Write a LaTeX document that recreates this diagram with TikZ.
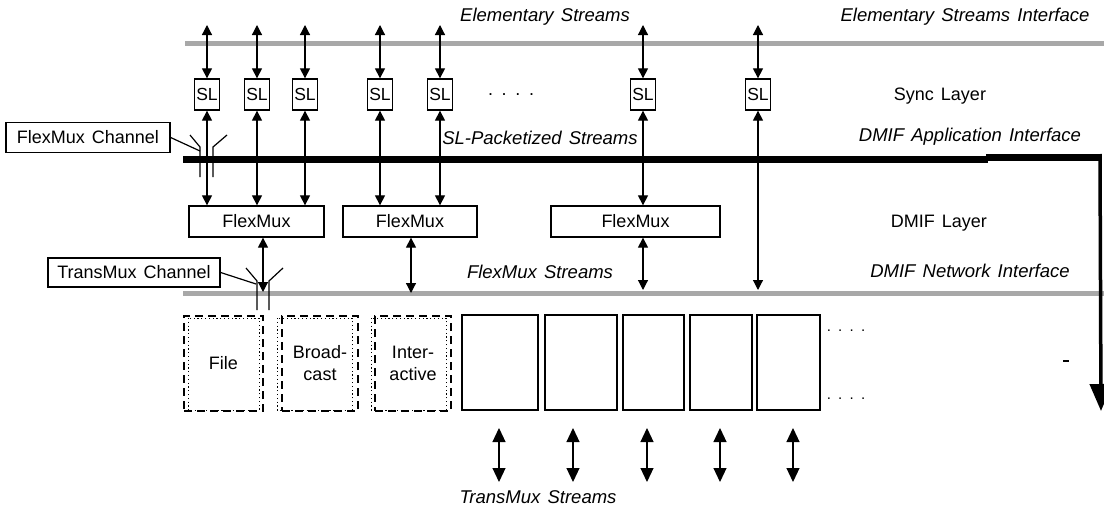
\documentclass[tikz,border=0pt]{standalone}
\usepackage{fontspec}
\setmainfont{Liberation Sans}[WordSpace=1.4]
\usetikzlibrary{arrows.meta}

\tikzset{
  lbl/.style={font=\fontsize{18}{20}\selectfont, inner sep=0pt},
  ilbl/.style={font=\fontsize{18.5}{20}\selectfont\itshape, inner sep=0pt},
  slbox/.style={draw, line width=1.3pt, minimum width=25pt, minimum height=31pt,
    inner sep=0pt, font=\fontsize{17.5}{18}\selectfont},
  fmbox/.style={draw, line width=1.3pt, minimum height=31pt, inner sep=0pt,
    font=\fontsize{18}{20}\selectfont},
  tmbox/.style={draw, line width=1.3pt, minimum height=95pt, inner sep=0pt},
  dashbox/.style={draw, line width=1.1pt, dash pattern=on 8pt off 5pt,
    minimum height=95pt, inner sep=0pt, align=center,
    font=\fontsize{18}{22}\selectfont},
  dotbox/.style={line width=1pt, dash pattern=on 1.2pt off 2.6pt},
  callbox/.style={draw, line width=1.3pt, minimum height=30pt, inner sep=0pt,
    font=\fontsize{18}{20}\selectfont},
  dbl/.style={line width=1.2pt,
    {Triangle[width=10pt,length=10pt]}-{Triangle[width=10pt,length=10pt]}},
  bigdbl/.style={line width=1.2pt,
    {Triangle[width=13pt,length=14pt]}-{Triangle[width=13pt,length=14pt]}},
  band/.style={line width=5pt, draw=gray!68},
  wall/.style={line width=1.2pt},
}

\begin{document}
\begin{tikzpicture}[x=1pt, y=-1pt]
  \useasboundingbox (0,0) rectangle (1104,506);

  % interface lines
  \draw[band] (185,43) -- (1104,43);
  \draw[band] (183,293) -- (1104,293);
  \draw[line width=7pt] (183,159) -- (988,159);
  \draw[line width=7pt] (986,157) -- (1101.5,157);
  \coordinate (apiR) at (1100,154);
  \coordinate (apiEnd) at (1101,411);
  \draw[line width=3.5pt, -{Triangle[width=22pt,length=27pt]}] (apiR) -- (apiEnd);
  \draw[line width=1.5pt] (1063,361) -- (1069,361);

  % layer and interface labels
  \node[ilbl] (est)  at (545,17)  {Elementary Streams};
  \node[ilbl] (esi)  at (965,17)  {Elementary Streams Interface};
  \node[lbl]  (sync) at (940,96)  {Sync Layer};
  \node[ilbl] (slps) at (540,138) {SL-Packetized Streams};
  \node[ilbl] (dai)  at (970,137) {DMIF Application Interface};
  \node[lbl]  (dl)   at (939,223) {DMIF Layer};
  \node[ilbl] (fms)  at (540,272) {FlexMux Streams};
  \node[ilbl] (dni)  at (970,271) {DMIF Network Interface};
  \node[ilbl] (tms)  at (538,497) {TransMux Streams};

  % sync layer
  \foreach \i/\x in {1/207,2/257,3/305,4/380,5/440,6/643,7/758} {
    \node[slbox] (sl\i) at (\x,94.5) {SL};
    \coordinate (es\i) at (\x,25);
    \draw[dbl] (es\i) -- (sl\i);
  }
  \node[lbl] (dots1) at (511,95) {. . . .};

  % FlexMux layer
  \node[fmbox, minimum width=135pt] (fm1) at (256.5,221.5) {FlexMux};
  \node[fmbox, minimum width=134pt] (fm2) at (410,221.5) {FlexMux};
  \node[fmbox, minimum width=169pt] (fm3) at (635.5,221.5) {FlexMux};

  \foreach \i/\f in {1/fm1,2/fm1,3/fm1,4/fm2,5/fm2,6/fm3}
    \draw[dbl] (sl\i) -- (sl\i |- \f.north);
  \coordinate (ni7) at (758,290);
  \draw[dbl] (sl7) -- (ni7);

  \coordinate (fs1) at (263,292);
  \coordinate (fs2) at (411,293);
  \coordinate (fs3) at (643,290);
  \draw[dbl] (fm1.south -| fs1) -- (fs1);
  \draw[dbl] (fm2.south -| fs2) -- (fs2);
  \draw[dbl] (fm3.south -| fs3) -- (fs3);

  % channel call-outs
  \node[callbox, minimum width=164pt] (fmc) at (88,137.5) {FlexMux Channel};
  \coordinate (fcw) at (200,151);
  \draw[wall] (fmc.east) -- (fcw);
  \draw[wall] (190,135) -- (200,147) -- (200,177);
  \draw[wall] (227,135) -- (213,147) -- (213,177);

  \node[callbox, minimum width=172pt, minimum height=29pt] (tmc) at (134,272.5) {TransMux Channel};
  \coordinate (tcw) at (256,284);
  \draw[wall] (tmc.east) -- (tcw);
  \draw[wall] (246,268) -- (257,281) -- (257,310);
  \draw[wall] (283,268) -- (269,281) -- (269,310);

  % TransMux instances
  \node[dashbox, minimum width=79pt] (file)  at (223.5,363.5) {File};
  \draw[dotbox] (188,318) rectangle (259,410);
  \node[dashbox, minimum width=76pt] (bcast) at (320,363.5) {Broad-\\cast};
  \draw[dotbox] (277,318) rectangle (352,410);
  \node[dashbox, minimum width=76pt] (inter) at (413,363.5) {Inter-\\active};
  \draw[dotbox] (371,318) rectangle (446,410);

  \foreach \i/\x/\w in {1/500/76,2/581/72,3/653.5/61,4/721/62,5/788.5/63}
    \node[tmbox, minimum width=\w pt] (tm\i) at (\x,362.5) {};
  \node[lbl, font=\fontsize{15}{16}\selectfont] (dots2) at (846,331) {. . . .};
  \node[lbl, font=\fontsize{15}{16}\selectfont] (dots3) at (846,399) {. . . .};

  \foreach \i/\x in {1/499,2/573,3/647,4/720,5/793} {
    \coordinate (ba\i) at (\x,428);
    \coordinate (bb\i) at (\x,482);
    \draw[bigdbl] (ba\i) -- (bb\i);
  }
\end{tikzpicture}
\end{document}
